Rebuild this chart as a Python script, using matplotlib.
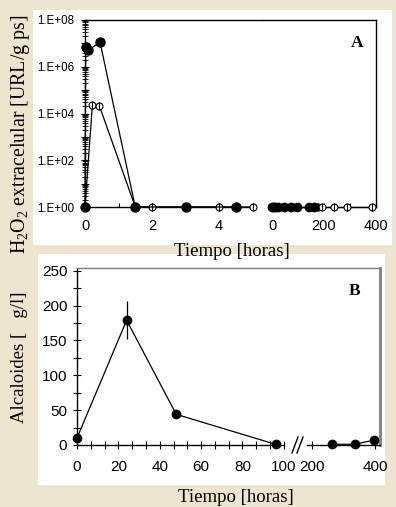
import matplotlib
matplotlib.use('Agg')
import matplotlib.pyplot as plt
import matplotlib.ticker as mticker
from matplotlib.patches import Rectangle
from matplotlib.lines import Line2D
import numpy as np

plt.rcParams['font.family'] = ['Liberation Serif', 'DejaVu Serif']
plt.rcParams['mathtext.fontset'] = 'custom'
plt.rcParams['mathtext.rm'] = 'Liberation Serif'
plt.rcParams['mathtext.it'] = 'Liberation Serif:italic'
plt.rcParams['mathtext.bf'] = 'Liberation Serif:bold'

# Panel A: H2O2 extracelular, tramo corto (0-5 h) y tramo largo (0-400 h)
t_llena_corto = [0, 0.02, 0.08, 0.45, 1.5, 3, 4.5]
h2o2_llena_corto = [1, 7e6, 5e6, 1.1e7, 1, 1, 1]
t_vacia_corto = [0, 0.22, 0.43, 1.5, 2, 4, 5]
h2o2_vacia_corto = [1, 2.3e4, 2.1e4, 1, 1, 1, 1]
t_llena_largo = [0, 6, 12, 24, 48, 72, 96, 144, 160]
h2o2_llena_largo = [1, 1, 1, 1, 1, 1, 1, 1, 1]
t_vacia_largo = [0, 176, 192, 240, 288, 384]
h2o2_vacia_largo = [1, 1, 1, 1, 1, 1]

# Panel B: alcaloides
t_alc_corto = [0, 24, 48, 96]
alc_corto = [10, 179, 44, 1]
err_alc_corto = [0, 27, 5, 0]
t_alc_largo = [264, 336, 396]
alc_largo = [1, 1, 7]
err_alc_largo = [0, 0, 1]

ticks_a_corto = [0, 1, 2, 3, 4, 5]
labels_a_corto = ['0', '', '2', '', '4', '']
ticks_a_largo = [0, 100, 200, 300, 400]
labels_a_largo = ['0', '', '200', '', '400']
ticks_b_corto = [0, 20, 40, 60, 80, 100]
ticks_b_largo = [200, 400]
ticks_b_y = [0, 50, 100, 150, 200, 250]

W, H = 396, 507
BEIGE = '#eee5cf'
GRIS = '#808080'
SANS = 'Liberation Sans'
NARROW = 'Liberation Sans Narrow'


def px_axes(fig, x0, y0, x1, y1):
    return fig.add_axes([x0 / W, 1 - y1 / H, (x1 - x0) / W, (y1 - y0) / H])


def px_line(fig, xs, ys, **kw):
    fig.add_artist(Line2D([x / W for x in xs], [1 - y / H for y in ys],
                          transform=fig.transFigure, **kw))


fig = plt.figure(figsize=(W / 100, H / 100), dpi=100)
fig.patch.set_facecolor(BEIGE)

# fondos blancos de cada panel
fig.add_artist(Rectangle((33 / W, 1 - 245 / H), (392 - 33) / W, (245 - 10) / H,
                         transform=fig.transFigure, facecolor='white', edgecolor='none', zorder=0))
fig.add_artist(Rectangle((38 / W, 1 - 485 / H), (385 - 38) / W, (485 - 254) / H,
                         transform=fig.transFigure, facecolor='white', edgecolor='none', zorder=0))

# ---------------- Panel A ----------------
a1 = px_axes(fig, 85, 20, 262, 207)
a2 = px_axes(fig, 262, 20, 376, 207)

for ax in (a1, a2):
    ax.set_facecolor('none')
    ax.set_yscale('log')
    ax.set_ylim(1, 1e8)
    for s in ax.spines.values():
        s.set_linewidth(1.0)
        s.set_color('black')

a1.set_xlim(0, 5.28)
a2.set_xlim(-38.5, 400)
a1.spines['right'].set_visible(False)
a2.spines['left'].set_visible(False)
a1.spines['bottom'].set_bounds(0, 5.0)
a2.spines['bottom'].set_bounds(-15, 400)

a1.plot(t_llena_corto, h2o2_llena_corto, '-', color='black', lw=0.9, marker='o', ms=6.5,
        mfc='black', mec='black', clip_on=False, zorder=4)
a1.plot(t_vacia_corto, h2o2_vacia_corto, '-', color='black', lw=0.9, marker='o', ms=5,
        mfc='white', mec='black', mew=0.8, clip_on=False, zorder=3)
a1.plot(t_vacia_corto, h2o2_vacia_corto, ls='none', marker='|', ms=6, mec='black',
        mew=0.8, clip_on=False, zorder=3)
a2.plot(t_vacia_largo, h2o2_vacia_largo, '-', color='black', lw=0.9, marker='o', ms=5,
        mfc='white', mec='black', mew=0.8, clip_on=False, zorder=3)
a2.plot(t_vacia_largo, h2o2_vacia_largo, ls='none', marker='|', ms=6, mec='black',
        mew=0.8, clip_on=False, zorder=3)
a2.plot(t_llena_largo, h2o2_llena_largo, '-', color='black', lw=0.9, marker='o', ms=6,
        mfc='black', mec='black', clip_on=False, zorder=4)

a1.set_xticks(ticks_a_corto)
a1.set_xticklabels(labels_a_corto, fontfamily=SANS, fontsize=10.5)
a2.set_xticks(ticks_a_largo)
a2.set_xticklabels(labels_a_largo, fontfamily=SANS, fontsize=10.5)
for ax in (a1, a2):
    ax.tick_params(axis='x', direction='in', length=3, width=0.8, pad=9)
    ax.xaxis.set_minor_locator(mticker.NullLocator())

a1.yaxis.set_major_locator(mticker.LogLocator(base=10, numticks=12))
a1.yaxis.set_minor_locator(mticker.LogLocator(base=10, subs=np.arange(2, 10), numticks=12))
a1.yaxis.set_minor_formatter(mticker.NullFormatter())
a1.yaxis.set_major_formatter(mticker.FuncFormatter(
    lambda v, p: '1.E+%02d' % round(np.log10(v)) if round(np.log10(v)) % 2 == 0 else ''))
a1.tick_params(axis='y', which='major', direction='inout', length=6, width=0.8, pad=5)
a1.tick_params(axis='y', which='minor', direction='inout', length=4, width=0.6)
for lab in a1.get_yticklabels():
    lab.set_fontfamily(SANS)
    lab.set_fontsize(8.3)
a2.tick_params(axis='y', which='both', left=False, labelleft=False)

fig.text(357 / W, 1 - 43 / H, 'A', fontsize=12.5, fontweight='bold', ha='center', va='center')
fig.text(21 / W, 1 - 134 / H, 'H$_2$O$_2$ extracelular [URL/g ps]', fontsize=14.3,
         rotation=90, ha='center', va='center')
fig.text(232 / W, 1 - 251 / H, 'Tiempo [horas]', fontsize=13.5, ha='center', va='center')

# ---------------- Panel B ----------------
b1 = px_axes(fig, 77, 268, 290, 445)
b2 = px_axes(fig, 307, 268, 380, 445)

for ax in (b1, b2):
    ax.set_facecolor('none')
    ax.set_ylim(0, 254)
    for s in ax.spines.values():
        s.set_linewidth(1.0)
    ax.spines['top'].set_visible(False)
    ax.spines['bottom'].set_color('black')

b1.set_xlim(0, 103)
b2.set_xlim(184, 416)
b1.spines['right'].set_visible(False)
b1.spines['left'].set_color('black')
b1.spines['bottom'].set_bounds(0, 100)
b2.spines['left'].set_visible(False)
b2.spines['right'].set_color(GRIS)
b2.spines['right'].set_linewidth(2.0)

# borde superior continuo del panel B
px_line(fig, [77, 380], [268, 268], color=GRIS, lw=1.0)

b1.errorbar(t_alc_corto, alc_corto, yerr=err_alc_corto, fmt='-o', color='black', lw=0.9,
            ms=6, elinewidth=0.9, capsize=0, clip_on=False, zorder=4)
b2.errorbar(t_alc_largo, alc_largo, yerr=err_alc_largo, fmt='-o', color='black', lw=0.9,
            ms=6, elinewidth=0.9, capsize=0, clip_on=False, zorder=4)

b1.set_xticks(ticks_b_corto)
b1.set_xticks(np.linspace(0, 100, 16), minor=True)
b2.set_xticks(ticks_b_largo)
b1.set_yticks(ticks_b_y)
b1.set_yticks(np.arange(25, 250, 50), minor=True)
for ax in (b1, b2):
    ax.tick_params(axis='x', which='both', direction='inout', length=6, width=0.8, pad=8)
    for lab in ax.get_xticklabels():
        lab.set_fontfamily([NARROW, SANS])
        lab.set_fontsize(11)
b1.tick_params(axis='y', which='both', direction='inout', length=6, width=0.8, pad=4)
for lab in b1.get_yticklabels():
    lab.set_fontfamily([NARROW, SANS])
    lab.set_fontsize(11)
b2.tick_params(axis='y', which='both', left=False, labelleft=False)

# marcas de corte del eje
for dx in (0, 5):
    px_line(fig, [292 + dx, 298 + dx], [453, 437], color='black', lw=1.0)

fig.text(355 / W, 1 - 291 / H, 'B', fontsize=12.5, fontweight='bold', ha='center', va='center')
fig.text(20 / W, 1 - 357 / H, 'Alcaloides [   g/l]', fontsize=13.5,
         rotation=90, ha='center', va='center')
fig.text(236 / W, 1 - 498 / H, 'Tiempo [horas]', fontsize=13.5, ha='center', va='center')

fig.savefig('out.png', dpi=100, facecolor=fig.get_facecolor())
